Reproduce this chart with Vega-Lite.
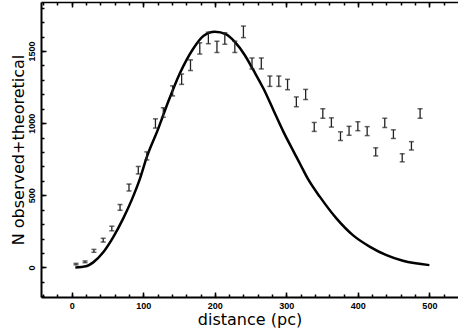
{
  "$schema": "https://vega.github.io/schema/vega-lite/v6.json",
  "width": 417,
  "height": 295,
  "autosize": {"type": "none"},
  "padding": {"left": 41, "top": 2, "right": 0, "bottom": 35},
  "background": "white",
  "config": {
    "view": {"stroke": null},
    "axis": {
      "grid": false,
      "domainColor": "black",
      "tickColor": "black",
      "labelColor": "black",
      "titleColor": "black",
      "labelFont": "Liberation Sans",
      "labelFontWeight": "bold",
      "labelFontSize": 9,
      "titleFont": "DejaVu Sans",
      "titleFontSize": 16,
      "titleFontWeight": "normal",
      "tickWidth": 1.5
    }
  },
  "datasets": {
    "theory": [
      {"distance": 5, "n": 0},
      {"distance": 20, "n": 8},
      {"distance": 30, "n": 35},
      {"distance": 44, "n": 105},
      {"distance": 58, "n": 210},
      {"distance": 72, "n": 340},
      {"distance": 84, "n": 470},
      {"distance": 95, "n": 610},
      {"distance": 105, "n": 766},
      {"distance": 120, "n": 950},
      {"distance": 135, "n": 1150},
      {"distance": 151, "n": 1344},
      {"distance": 170, "n": 1518},
      {"distance": 184, "n": 1605},
      {"distance": 200, "n": 1633},
      {"distance": 216, "n": 1615},
      {"distance": 228, "n": 1563},
      {"distance": 242, "n": 1471},
      {"distance": 254, "n": 1367},
      {"distance": 268, "n": 1240},
      {"distance": 282, "n": 1090},
      {"distance": 296, "n": 940},
      {"distance": 310, "n": 805},
      {"distance": 320, "n": 710},
      {"distance": 330, "n": 615},
      {"distance": 347, "n": 489},
      {"distance": 370, "n": 340},
      {"distance": 393, "n": 224},
      {"distance": 417, "n": 143},
      {"distance": 440, "n": 85},
      {"distance": 463, "n": 46},
      {"distance": 500, "n": 16}
    ],
    "obs": [
      {"distance": 6, "lo": 18, "hi": 28},
      {"distance": 18.6, "lo": 33, "hi": 45},
      {"distance": 31, "lo": 105, "hi": 125},
      {"distance": 44, "lo": 176, "hi": 202},
      {"distance": 56, "lo": 254, "hi": 286},
      {"distance": 67.5, "lo": 396, "hi": 436},
      {"distance": 80, "lo": 530, "hi": 578},
      {"distance": 93, "lo": 648, "hi": 700},
      {"distance": 105, "lo": 745, "hi": 801},
      {"distance": 117, "lo": 966, "hi": 1030},
      {"distance": 128, "lo": 1041, "hi": 1107},
      {"distance": 141, "lo": 1189, "hi": 1259},
      {"distance": 153.6, "lo": 1269, "hi": 1341},
      {"distance": 166, "lo": 1365, "hi": 1439},
      {"distance": 179, "lo": 1479, "hi": 1557},
      {"distance": 191, "lo": 1551, "hi": 1631},
      {"distance": 203, "lo": 1490, "hi": 1568},
      {"distance": 214, "lo": 1547, "hi": 1627},
      {"distance": 228, "lo": 1490, "hi": 1568},
      {"distance": 240, "lo": 1593, "hi": 1673},
      {"distance": 252, "lo": 1376, "hi": 1452},
      {"distance": 265, "lo": 1376, "hi": 1452},
      {"distance": 277, "lo": 1255, "hi": 1327},
      {"distance": 289.5, "lo": 1255, "hi": 1327},
      {"distance": 301.7, "lo": 1232, "hi": 1304},
      {"distance": 314, "lo": 1114, "hi": 1182},
      {"distance": 327, "lo": 1164, "hi": 1234},
      {"distance": 339, "lo": 943, "hi": 1005},
      {"distance": 351, "lo": 1034, "hi": 1100},
      {"distance": 363, "lo": 973, "hi": 1037},
      {"distance": 375.7, "lo": 880, "hi": 940},
      {"distance": 387.7, "lo": 916, "hi": 978},
      {"distance": 400, "lo": 948, "hi": 1010},
      {"distance": 413, "lo": 914, "hi": 976},
      {"distance": 425, "lo": 773, "hi": 829},
      {"distance": 437.6, "lo": 970, "hi": 1034},
      {"distance": 449.7, "lo": 894, "hi": 954},
      {"distance": 462, "lo": 732, "hi": 788},
      {"distance": 474.9, "lo": 814, "hi": 872},
      {"distance": 487, "lo": 1034, "hi": 1100}
    ]
  },
  "layer": [
    {
      "data": {"name": "theory"},
      "mark": {"type": "line", "color": "black", "strokeWidth": 2.5, "interpolate": "monotone"},
      "encoding": {
        "x": {
          "field": "distance", "type": "quantitative",
          "scale": {"domain": [-43, 540], "nice": false, "zero": false},
          "axis": {"orient": "bottom", "values": [0, 100, 200, 300, 400, 500], "format": "d", "tickSize": -5, "labelPadding": 9.5, "domainWidth": 2, "title": "distance (pc)", "titlePadding": 1}
        },
        "y": {
          "field": "n", "type": "quantitative",
          "scale": {"domain": [-205, 1840], "nice": false, "zero": false},
          "axis": {"orient": "left", "values": [0, 500, 1000, 1500], "format": "d", "tickSize": -5, "labelAngle": -90, "labelAlign": "center", "labelBaseline": "bottom", "labelPadding": 10, "domainWidth": 2, "title": "N observed+theoretical", "titlePadding": 1}
        }
      }
    },
    {
      "data": {"name": "obs"},
      "mark": {"type": "rule", "color": "#222222", "strokeWidth": 1.3},
      "encoding": {
        "x": {
          "field": "distance", "type": "quantitative",
          "scale": {"domain": [-43, 540], "nice": false, "zero": false},
          "axis": {"orient": "bottom", "values": [-40, -20, 0, 20, 40, 60, 80, 100, 120, 140, 160, 180, 200, 220, 240, 260, 280, 300, 320, 340, 360, 380, 400, 420, 440, 460, 480, 500, 520], "tickSize": -3, "labels": false, "domain": false, "title": null}
        },
        "y": {
          "field": "lo", "type": "quantitative",
          "scale": {"domain": [-205, 1840], "nice": false, "zero": false},
          "axis": {"orient": "left", "values": [-200, -100, 0, 100, 200, 300, 400, 500, 600, 700, 800, 900, 1000, 1100, 1200, 1300, 1400, 1500, 1600, 1700, 1800], "tickSize": -3, "labels": false, "domain": false, "title": null}
        },
        "y2": {"field": "hi"}
      }
    },
    {
      "data": {"name": "obs"},
      "mark": {"type": "tick", "orient": "horizontal", "color": "#222222", "size": 5, "thickness": 1.5},
      "encoding": {
        "x": {
          "field": "distance", "type": "quantitative",
          "scale": {"domain": [-43, 540], "nice": false, "zero": false},
          "axis": {"orient": "top", "values": [0, 100, 200, 300, 400, 500], "tickSize": -5, "labels": false, "domainWidth": 1.5, "title": null}
        },
        "y": {
          "field": "lo", "type": "quantitative",
          "scale": {"domain": [-205, 1840], "nice": false, "zero": false},
          "axis": null
        }
      }
    },
    {
      "data": {"name": "obs"},
      "mark": {"type": "tick", "orient": "horizontal", "color": "#222222", "size": 5, "thickness": 1.5},
      "encoding": {
        "x": {
          "field": "distance", "type": "quantitative",
          "scale": {"domain": [-43, 540], "nice": false, "zero": false},
          "axis": {"orient": "top", "values": [-40, -20, 0, 20, 40, 60, 80, 100, 120, 140, 160, 180, 200, 220, 240, 260, 280, 300, 320, 340, 360, 380, 400, 420, 440, 460, 480, 500, 520], "tickSize": -3, "labels": false, "domain": false, "title": null}
        },
        "y": {
          "field": "hi", "type": "quantitative",
          "scale": {"domain": [-205, 1840], "nice": false, "zero": false},
          "axis": null
        }
      }
    }
  ],
  "resolve": {"axis": {"x": "independent", "y": "independent"}}
}
